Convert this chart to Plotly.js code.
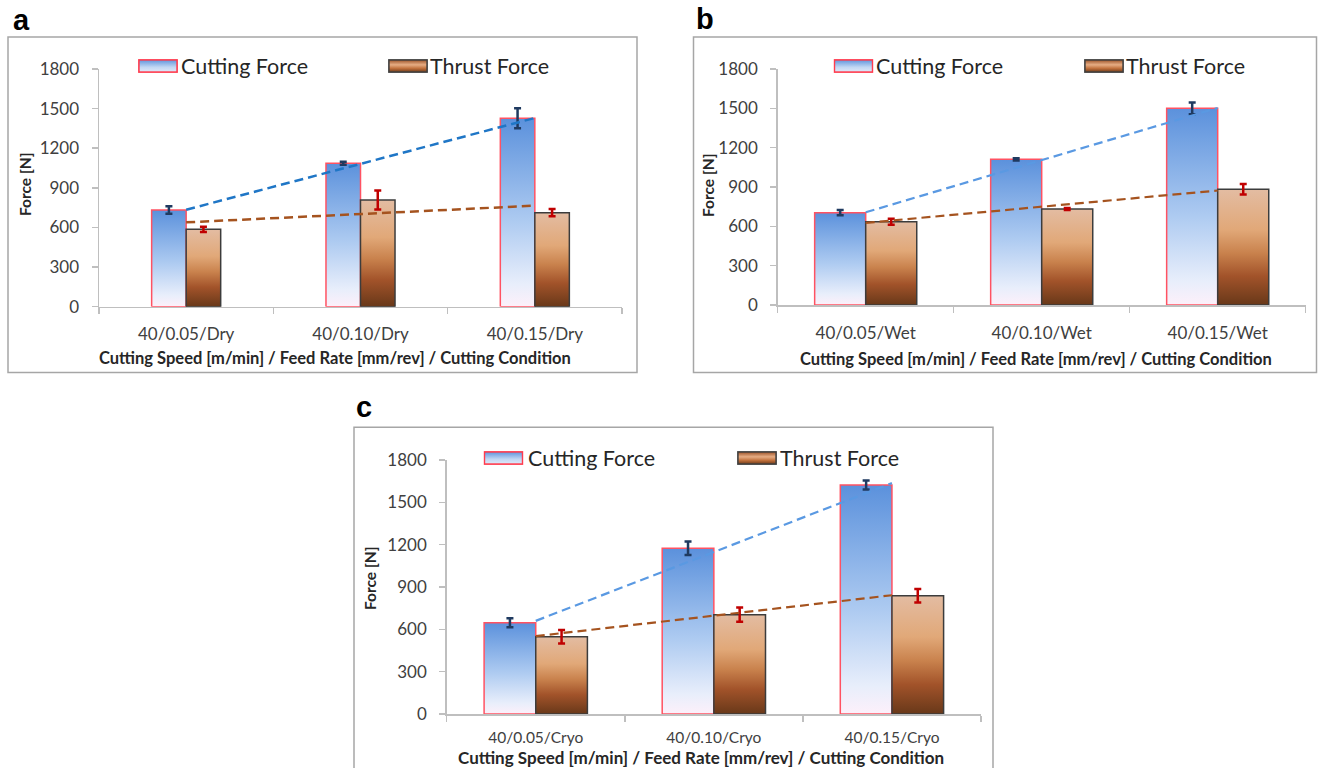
<!DOCTYPE html>
<html><head><meta charset="utf-8">
<script src="https://cdn.plot.ly/plotly-3.0.1.min.js"></script>
<style>html,body{margin:0;padding:0;background:#fff;} #chart{width:1321px;height:768px;}</style>
</head><body><div id="chart"></div>
<script>
const W = 1321, H = 768;

// ---------- data ----------
const seriesNames = ['Cutting Force', 'Thrust Force'];
const yTickVals = [0, 300, 600, 900, 1200, 1500, 1800];
const panelLabels = ['a', 'b', 'c'];
const xTitleText = 'Cutting Speed [m/min] / Feed Rate [mm/rev] / Cutting Condition';
const yTitleText = 'Force [N]';

const categoriesA = ['40/0.05/Dry', '40/0.10/Dry', '40/0.15/Dry'];
const cuttingA = [732, 1086, 1427];
const cuttingErrA = [28, 12, 75];
const thrustA = [586, 808, 712];
const thrustErrA = [20, 72, 28];

const categoriesB = ['40/0.05/Wet', '40/0.10/Wet', '40/0.15/Wet'];
const cuttingB = [704, 1111, 1500];
const cuttingErrB = [20, 8, 45];
const thrustB = [635, 732, 882];
const thrustErrB = [22, 8, 40];

const categoriesC = ['40/0.05/Cryo', '40/0.10/Cryo', '40/0.15/Cryo'];
const cuttingC = [647, 1174, 1623];
const cuttingErrC = [32, 48, 32];
const thrustC = [548, 704, 838];
const thrustErrC = [48, 50, 48];

// ---------- helpers ----------
const px = x => x / W;
const py = y => 1 - y / H;
function linFit(v) {
  const n = v.length, xs = v.map((_, i) => i);
  const mx = xs.reduce((a, b) => a + b, 0) / n, my = v.reduce((a, b) => a + b, 0) / n;
  let sxy = 0, sxx = 0;
  xs.forEach((x, i) => { sxy += (x - mx) * (v[i] - my); sxx += (x - mx) * (x - mx); });
  const b = sxy / sxx, a = my - b * mx;
  return xs.map(x => a + b * x);
}

const cutScale = [[0, '#fdf0fa'], [0.12, '#e8eefb'], [0.45, '#aecbf1'], [1, '#5b91dc']];
const thrScale = [[0, '#683819'], [0.25, '#a2532a'], [0.45, '#c9824d'], [0.65, '#e1a878'], [1, '#e3bca2']];
const cutLine = '#ff5262', thrLine = '#3c3c3c';
const axisGray = '#bfbfbf';

const panels = [
  {cats: categoriesA, cut: cuttingA, cutErr: cuttingErrA, thr: thrustA, thrErr: thrustErrA,
   id: '', xd: [99, 622], yd: [69, 306.7], bw: 0.198, cutTrend: '#1f76c6', tw: 2.5,
   tickSize: 17, standoff: 11,
   border: [8, 37, 637, 372.5], label: [11, 20], legY: 66, legX: [138, 181, 388, 430],
   yTitle: [25, 184], xTitle: [335, 358.3], xTitleSize: 16.5},
  {cats: categoriesB, cut: cuttingB, cutErr: cuttingErrB, thr: thrustB, thrErr: thrustErrB,
   id: '2', xd: [777.7, 1305.7], yd: [69, 305], bw: 0.29, cutTrend: '#5a99e2', tw: 2.2,
   tickSize: 17, standoff: 12,
   border: [693.5, 37, 1316.5, 372.5], label: [694, 19], legY: 66, legX: [833.5, 876, 1084, 1126],
   yTitle: [708, 185], xTitle: [1035.5, 359.3], xTitleSize: 16.5},
  {cats: categoriesC, cut: cuttingC, cutErr: cuttingErrC, thr: thrustC, thrErr: thrustErrC,
   id: '3', xd: [446.7, 981], yd: [460, 714], bw: 0.29, cutTrend: '#5a99e2', tw: 2.2,
   tickSize: 15.5, standoff: 9,
   border: [354, 427.3, 993, 772], label: [354, 406.5], legY: 458, legX: [483.5, 528, 737, 780],
   yTitle: [370, 578], xTitle: [700.5, 757], xTitleSize: 17}
];

function swatch(kind) {
  let svg;
  if (kind === 0) {
    svg = "<svg xmlns='http://www.w3.org/2000/svg' width='40' height='14' viewBox='0 0 40 14'><defs><linearGradient id='g' x1='0' y1='0' x2='0' y2='1'><stop offset='0' stop-color='#5f94dc'/><stop offset='0.6' stop-color='#c2d7f3'/><stop offset='1' stop-color='#dfe9f9'/></linearGradient></defs><rect x='0.9' y='0.9' width='38.2' height='12.2' fill='url(#g)' stroke='#ff3b4e' stroke-width='1.6'/></svg>";
  } else {
    svg = "<svg xmlns='http://www.w3.org/2000/svg' width='40' height='14' viewBox='0 0 40 14'><defs><linearGradient id='g' x1='0' y1='0' x2='0' y2='1'><stop offset='0' stop-color='#9c5228'/><stop offset='0.4' stop-color='#e6ad84'/><stop offset='0.7' stop-color='#c0703c'/><stop offset='1' stop-color='#6e3a1a'/></linearGradient></defs><rect x='0.9' y='0.9' width='38.2' height='12.2' fill='url(#g)' stroke='#404040' stroke-width='1.6'/></svg>";
  }
  return 'data:image/svg+xml;charset=utf-8,' + encodeURIComponent(svg);
}

const traces = [];
const layout = {
  width: W, height: H, margin: {l: 0, r: 0, t: 0, b: 0},
  paper_bgcolor: '#ffffff', plot_bgcolor: 'rgba(0,0,0,0)',
  font: {family: 'Lato, "Open Sans", sans-serif', color: '#404040'},
  showlegend: false, shapes: [], annotations: [], images: []
};

panels.forEach((p, pi) => {
  const xa = 'x' + p.id, ya = 'y' + p.id;
  // bars
  p.cats.forEach((c, i) => {
    traces.push({type: 'scatter', mode: 'lines', xaxis: xa, yaxis: ya, hoverinfo: 'skip',
      x: [i - p.bw, i, i, i - p.bw, i - p.bw], y: [0, 0, p.cut[i], p.cut[i], 0],
      fill: 'toself', fillgradient: {type: 'vertical', colorscale: cutScale},
      line: {color: cutLine, width: 1.5}, name: seriesNames[0]});
    traces.push({type: 'scatter', mode: 'lines', xaxis: xa, yaxis: ya, hoverinfo: 'skip',
      x: [i, i + p.bw, i + p.bw, i, i], y: [0, 0, p.thr[i], p.thr[i], 0],
      fill: 'toself', fillgradient: {type: 'vertical', colorscale: thrScale},
      line: {color: thrLine, width: 1.5}, name: seriesNames[1]});
  });
  const idx = p.cats.map((_, i) => i);
  // error bars
  traces.push({type: 'scatter', mode: 'markers', xaxis: xa, yaxis: ya, hoverinfo: 'skip',
    x: idx.map(i => i - p.bw / 2), y: p.cut, marker: {size: 2, color: 'rgba(0,0,0,0)'},
    error_y: {type: 'data', array: p.cutErr, color: '#1f3a60', thickness: 2.5, width: 3.5}});
  traces.push({type: 'scatter', mode: 'markers', xaxis: xa, yaxis: ya, hoverinfo: 'skip',
    x: idx.map(i => i + p.bw / 2), y: p.thr, marker: {size: 2, color: 'rgba(0,0,0,0)'},
    error_y: {type: 'data', array: p.thrErr, color: '#c00000', thickness: 2.5, width: 3.5}});
  // linear trendlines
  traces.push({type: 'scatter', mode: 'lines', xaxis: xa, yaxis: ya, hoverinfo: 'skip',
    x: idx, y: linFit(p.cut), line: {color: p.cutTrend, width: p.tw, dash: '9px,5px'}});
  traces.push({type: 'scatter', mode: 'lines', xaxis: xa, yaxis: ya, hoverinfo: 'skip',
    x: idx, y: linFit(p.thr), line: {color: '#a5531f', width: p.tw, dash: '9px,5px'}});

  layout['xaxis' + p.id] = {
    domain: [px(p.xd[0]), px(p.xd[1])], anchor: ya, range: [-0.5, 2.5],
    showline: true, linecolor: axisGray, linewidth: 1.5, zeroline: false, showgrid: false,
    tickmode: 'array', tickvals: idx, ticktext: p.cats, ticks: '',
    tickfont: {size: p.tickSize, color: '#404040'}, ticklabelstandoff: p.standoff,
    minor: {tick0: -0.5, dtick: 1, ticks: 'outside', ticklen: 6, tickwidth: 1.5, tickcolor: axisGray, showgrid: false},
    fixedrange: true
  };
  layout['yaxis' + p.id] = {
    domain: [py(p.yd[1]), py(p.yd[0])], anchor: xa, range: [0, 1800],
    showline: true, linecolor: axisGray, linewidth: 1.5, zeroline: false, showgrid: false,
    tickmode: 'array', tickvals: yTickVals, ticks: 'outside', ticklen: 6, tickwidth: 1.5, tickcolor: axisGray,
    tickfont: {size: 17, color: '#404040'}, ticklabelstandoff: 9, fixedrange: true
  };

  // panel border
  layout.shapes.push({type: 'rect', xref: 'paper', yref: 'paper', layer: 'below',
    x0: px(p.border[0]), x1: px(p.border[2]), y0: py(p.border[3]), y1: py(p.border[1]),
    line: {color: '#a6a6a6', width: 1.5}, fillcolor: 'rgba(0,0,0,0)'});

  // panel label
  layout.annotations.push({xref: 'paper', yref: 'paper', x: px(p.label[0]), y: py(p.label[1]),
    xanchor: 'left', yanchor: 'middle', showarrow: false, text: '<b>' + panelLabels[pi] + '</b>',
    font: {family: '"Liberation Sans", Arial, sans-serif', size: 29, color: '#000'}});

  // legend
  [0, 1].forEach(k => {
    layout.images.push({source: swatch(k), xref: 'paper', yref: 'paper',
      x: px(p.legX[k * 2]), y: py(p.legY - 7), sizex: 40 / W, sizey: 14 / H,
      xanchor: 'left', yanchor: 'top', sizing: 'stretch', layer: 'above'});
    layout.annotations.push({xref: 'paper', yref: 'paper', x: px(p.legX[k * 2 + 1] - 2), y: py(p.legY),
      xanchor: 'left', yanchor: 'middle', showarrow: false, text: seriesNames[k],
      font: {size: 21.5, color: '#262626'}});
  });

  // axis titles
  layout.annotations.push({xref: 'paper', yref: 'paper', x: px(p.xTitle[0]), y: py(p.xTitle[1]),
    xanchor: 'center', yanchor: 'middle', showarrow: false, text: '<b>' + xTitleText + '</b>',
    font: {size: p.xTitleSize, color: '#262626'}});
  layout.annotations.push({xref: 'paper', yref: 'paper', x: px(p.yTitle[0]), y: py(p.yTitle[1]),
    xanchor: 'center', yanchor: 'middle', showarrow: false, textangle: -90, text: '<b>' + yTitleText + '</b>',
    font: {size: 15.5, color: '#262626'}});
});

Plotly.newPlot('chart', traces, layout, {staticPlot: true, displayModeBar: false});
</script>
</body></html>
